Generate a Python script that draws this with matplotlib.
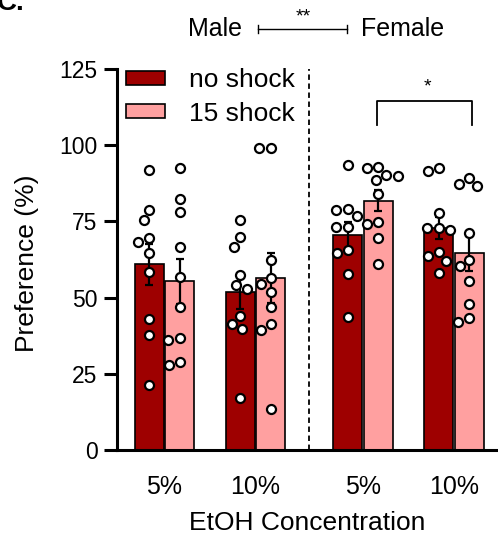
import numpy as np
import matplotlib.pyplot as plt
from matplotlib.patches import Patch

plt.rcParams['font.family'] = ['Liberation Sans', 'DejaVu Sans']

# ---------------------------------------------
conc_labels = ['5%', '10%', '5%', '10%']
conditions = ['no shock', '15 shock']
bar_colors = ['#9E0000', '#FFA0A0']

# preference (%) per animal, one list per bar
male_5_noshock = [91.7, 78.9, 75.6, 69.5, 68.4, 64.6, 58.4, 42.9, 37.6, 21.3]
male_5_shock = [92.4, 82.4, 78.2, 66.6, 56.7, 46.9, 36.2, 36.9, 27.8, 28.9]
male_10_noshock = [75.5, 69.8, 66.6, 57.5, 54.0, 52.7, 44.0, 41.5, 39.6, 16.9]
male_10_shock = [99.0, 99.0, 62.4, 56.4, 54.6, 51.8, 46.9, 41.2, 39.3, 13.6]
female_5_noshock = [93.6, 78.8, 79.1, 76.7, 73.3, 73.3, 64.6, 65.5, 57.8, 43.6]
female_5_shock = [93.0, 92.4, 90.3, 90.0, 88.7, 84.0, 74.0, 74.9, 69.5, 61.1]
female_10_noshock = [91.4, 92.4, 77.8, 72.9, 72.3, 72.9, 65.0, 63.5, 62.0, 58.0]
female_10_shock = [89.1, 86.5, 87.3, 71.3, 62.4, 60.3, 55.3, 48.0, 43.3, 42.0]

noshock = [male_5_noshock, male_10_noshock, female_5_noshock, female_10_noshock]
shock = [male_5_shock, male_10_shock, female_5_shock, female_10_shock]
# ---------------------------------------------

group_x = np.array([0.0, 1.0, 2.18, 3.18])
bar_w = 0.32
offsets = [-0.167, 0.167]


def swarm_x(vals, x0, ax, diam=11.5):
    # spread points sideways so the circles don't overlap (done in pixels)
    vals = np.asarray(vals, dtype=float)
    py = ax.transData.transform(np.column_stack([np.full(len(vals), x0), vals]))[:, 1]
    ppu = ax.transData.transform((1, 0))[0] - ax.transData.transform((0, 0))[0]
    placed = []
    offs = np.zeros(len(vals))
    for i in np.argsort(-vals, kind='stable'):
        cands = [0.0]
        for o, y in placed:
            dy = abs(y - py[i])
            if dy < diam:
                dx = np.sqrt(diam**2 - dy**2)
                cands += [o - dx, o + dx]
        cands.sort(key=lambda c: (abs(c), c))
        for c in cands:
            if all((c - o)**2 + (y - py[i])**2 >= diam**2 - 1e-6 for o, y in placed):
                break
        placed.append((c, py[i]))
        offs[i] = c
    return x0 + offs / ppu


fig = plt.figure(figsize=(4.98, 5.35), dpi=100)
ax = fig.add_axes([117/498, 85/535, 380/498, 381/535])
ax.set_xlim(-0.522, 3.654)
ax.set_ylim(0, 125)

for k, series in enumerate([noshock, shock]):
    for g, vals in enumerate(series):
        x0 = group_x[g] + offsets[k]
        m = np.mean(vals)
        sem = np.std(vals, ddof=1) / np.sqrt(len(vals))
        ax.bar(x0, m, width=bar_w, color=bar_colors[k], edgecolor='black',
               linewidth=1.2, zorder=2)
        ax.errorbar(x0, m, yerr=sem, color='black', lw=1.6, capsize=3,
                    capthick=1.6, zorder=3)
        xs = swarm_x(vals, x0, ax)
        ax.plot(xs, vals, 'o', ms=6.5, mfc='white', mec='black', mew=1.6,
                zorder=4, clip_on=False)

# divider between male and female
ax.axvline(1.588, color='black', lw=1.3, ls=(0, (3, 2)), zorder=1)

ax.set_yticks([0, 25, 50, 75, 100, 125])
ax.set_xticks(group_x)
ax.set_xticklabels(conc_labels)
ax.tick_params(axis='x', length=0, pad=18, labelsize=18)
ax.tick_params(axis='y', length=9.5, width=2.2, pad=4.5, labelsize=16.5)
for s in ['top', 'right']:
    ax.spines[s].set_visible(False)
ax.spines['left'].set_linewidth(2.2)
ax.spines['bottom'].set_linewidth(2.2)
ax.set_ylabel('Preference (%)', fontsize=19)
ax.set_xlabel('EtOH Concentration', fontsize=19, labelpad=9)
ax.yaxis.set_label_coords(-0.205, 0.49)

handles = [Patch(facecolor=c, edgecolor='black', linewidth=1.2) for c in bar_colors]
ax.legend(handles, conditions, loc='upper left', bbox_to_anchor=(0.023, 1.002),
          frameon=False, fontsize=19, handlelength=1.5, handleheight=0.42,
          handletextpad=0.9, labelspacing=0.36, borderaxespad=0, borderpad=0)

# sex effect above the plot
ax.text(0.55, 138.1, 'Male', ha='center', va='center', fontsize=18, clip_on=False)
ax.text(2.615, 138.1, 'Female', ha='center', va='center', fontsize=18, clip_on=False)
ax.plot([1.027, 2.005], [138.1, 138.1], color='black', lw=1, clip_on=False)
for xe in [1.027, 2.005]:
    ax.plot([xe, xe], [136.8, 139.4], color='black', lw=1, clip_on=False)
ax.text(1.52, 142.0, '**', ha='center', va='center', fontsize=14, clip_on=False)

# shock effect in females at 10%
ax.plot([2.33, 2.33, 3.38, 3.38], [106.7, 114.6, 114.6, 106.7], color='black',
        lw=1.3, clip_on=False)
ax.text(2.885, 119.0, '*', ha='center', va='center', fontsize=14)

fig.text(-0.006, 1 - 10/535, 'C.', fontsize=20, fontweight='bold', va='baseline')

fig.savefig('out.png', dpi=100)
